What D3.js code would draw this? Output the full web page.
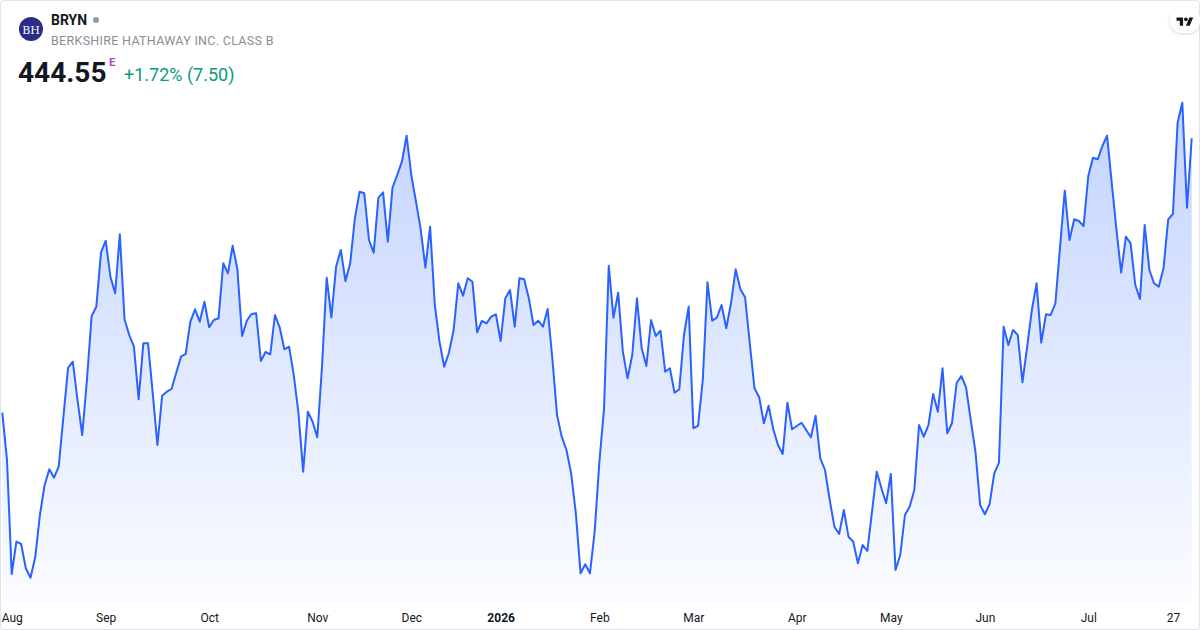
<!DOCTYPE html>
<html>
<head>
<meta charset="utf-8">
<script src="https://cdn.jsdelivr.net/npm/d3@7"></script>
<style>
  html, body { margin: 0; padding: 0; background: #fff; }
  svg { display: block; font-family: Roboto, "Noto Sans", sans-serif; }
</style>
</head>
<body>
<svg id="chart" width="1200" height="630"></svg>
<script>
// --- Data (daily closes) ---
const closes = [
  417.11, 412.38, 400.98, 404.21, 403.98, 401.55, 400.61, 402.65, 406.88, 409.88,
  411.45, 410.61, 411.71, 416.71, 421.61, 422.21, 418.38, 414.88, 420.38, 426.78,
  427.71, 433.15, 434.31, 430.71, 429.05, 434.95, 426.45, 424.88, 423.71, 418.45,
  424.05, 424.05, 419.05, 413.88, 418.81, 419.21, 419.48, 421.11, 422.71, 422.98,
  426.21, 427.45, 426.21, 428.21, 425.65, 426.38, 426.55, 432.05, 431.05, 433.81,
  431.48, 424.78, 426.31, 426.98, 427.05, 422.28, 423.18, 422.95, 426.88, 425.65,
  423.45, 423.71, 420.88, 417.05, 411.21, 417.21, 416.21, 414.65, 421.71, 430.61,
  426.65, 431.71, 433.38, 430.28, 432.05, 436.58, 439.21, 439.05, 434.38, 433.11,
  438.61, 439.15, 434.21, 439.61, 440.88, 442.21, 444.81, 440.88, 438.21, 435.45,
  431.61, 435.71, 427.88, 424.21, 421.71, 423.11, 425.38, 430.05, 428.81, 430.55,
  430.21, 425.15, 426.28, 426.05, 426.71, 426.95, 424.28, 428.55, 429.38, 425.71,
  430.55, 430.45, 428.55, 425.88, 426.31, 425.71, 427.48, 422.55, 416.88, 414.71,
  413.38, 411.05, 407.05, 401.05, 401.95, 401.05, 405.21, 412.18, 417.55, 431.81,
  426.61, 429.11, 423.21, 420.55, 422.88, 428.55, 423.55, 421.78, 426.38, 424.78,
  425.31, 421.21, 421.55, 419.11, 419.45, 424.88, 427.71, 415.55, 415.81, 420.38,
  430.15, 426.31, 426.61, 427.88, 425.55, 428.05, 431.45, 429.45, 428.65, 424.05,
  419.55, 418.65, 416.05, 417.81, 415.45, 413.88, 412.98, 418.11, 415.45, 415.78,
  416.11, 415.38, 414.65, 416.81, 412.55, 411.38, 408.38, 405.71, 404.98, 407.38,
  404.71, 404.21, 402.05, 403.88, 403.28, 407.21, 411.21, 409.55, 408.05, 410.98,
  401.38, 402.88, 406.88, 407.71, 409.38, 415.88, 414.71, 415.88, 418.98, 417.21,
  421.55, 415.05, 416.05, 420.08, 420.78, 419.65, 416.38, 413.21, 407.88, 406.95,
  407.95, 411.05, 412.11, 425.71, 423.88, 425.38, 424.88, 420.15, 423.71, 427.38,
  430.05, 424.11, 426.95, 426.88, 428.05, 433.71, 439.31, 434.38, 436.45, 436.28,
  435.78, 440.78, 442.61, 442.45, 443.78, 444.81, 440.05, 435.38, 431.11, 434.71,
  434.05, 429.88, 428.48, 435.88, 431.38, 430.05, 429.71, 431.55, 436.45, 436.98,
  446.11, 448.11, 437.61, 444.55
];

// bar index where each time-axis label sits
const tickLabels = ["Aug", "Sep", "Oct", "Nov", "Dec", "2026", "Feb", "Mar", "Apr", "May", "Jun", "Jul", "27"];
const tickIndex  = [2, 22, 44, 67, 87, 106, 127, 147, 169, 189, 209, 231, 249];
const boldTicks  = ["2026"];

const symbol = "BRYN";
const company = "BERKSHIRE HATHAWAY INC. CLASS B";
const lastPrice = "444.55";
const change = "+1.72% (7.50)";

// --- Layout ---
const width = 1200, height = 630;
const svg = d3.select("#chart");

const x = d3.scaleLinear().domain([0, closes.length - 1]).range([2.3, 1191.7]);
const y = d3.scaleLinear().domain([400, 450]).range([583.8, 83.8]);
const plotBottom = 602;

// gradient for the area
const defs = svg.append("defs");
const grad = defs.append("linearGradient")
    .attr("id", "areaFill")
    .attr("gradientUnits", "userSpaceOnUse")
    .attr("x1", 0).attr("y1", 100).attr("x2", 0).attr("y2", plotBottom);
grad.append("stop").attr("offset", "0%").attr("stop-color", "#2962ff").attr("stop-opacity", 0.28);
grad.append("stop").attr("offset", "100%").attr("stop-color", "#2962ff").attr("stop-opacity", 0.02);

const shadow = defs.append("filter").attr("id", "shadow")
    .attr("x", "-50%").attr("y", "-50%").attr("width", "200%").attr("height", "200%");
shadow.append("feDropShadow").attr("dx", 0).attr("dy", 1).attr("stdDeviation", 1.5)
    .attr("flood-color", "#000").attr("flood-opacity", 0.18);

// background + frame
svg.append("rect")
    .attr("x", 0.5).attr("y", 0.5)
    .attr("width", width - 1).attr("height", height - 1)
    .attr("rx", 3)
    .attr("fill", "#fff")
    .attr("stroke", "#e0e3eb");

// area + line
const area = d3.area()
    .x((d, i) => x(i))
    .y0(plotBottom)
    .y1(d => y(d));

const line = d3.line()
    .x((d, i) => x(i))
    .y(d => y(d));

svg.append("path")
    .datum(closes)
    .attr("d", area)
    .attr("fill", "url(#areaFill)");

svg.append("path")
    .datum(closes)
    .attr("d", line)
    .attr("fill", "none")
    .attr("stroke", "#2962ff")
    .attr("stroke-width", 2)
    .attr("stroke-linejoin", "round");

// time axis labels
const xAxis = d3.axisBottom(x)
    .tickValues(tickIndex)
    .tickFormat((d, i) => tickLabels[i])
    .tickSize(0)
    .tickPadding(0);

const axisG = svg.append("g")
    .attr("transform", `translate(0, 613)`)
    .call(xAxis);
axisG.select(".domain").remove();
axisG.selectAll("text")
    .attr("font-size", 12)
    .attr("font-family", "Roboto, 'Noto Sans', sans-serif")
    .attr("fill", "#131722")
    .attr("font-weight", d => boldTicks.includes(tickLabels[tickIndex.indexOf(d)]) ? 700 : 400);

// --- Header ---
const head = svg.append("g");
head.append("circle").attr("cx", 31).attr("cy", 29).attr("r", 12).attr("fill", "#2a2c86");
head.append("text")
    .attr("x", 31).attr("y", 33.5)
    .attr("text-anchor", "middle")
    .attr("font-family", "'DejaVu Serif', 'Liberation Serif', serif")
    .attr("font-size", 11)
    .attr("fill", "#fff")
    .text("BH");

head.append("text")
    .attr("x", 51).attr("y", 25)
    .attr("font-size", 14)
    .attr("font-weight", 700)
    .attr("fill", "#131722")
    .text(symbol);
head.append("circle").attr("cx", 96).attr("cy", 20).attr("r", 3).attr("fill", "#9598a1");

head.append("text")
    .attr("x", 51).attr("y", 45)
    .attr("font-size", 12.5)
    .attr("letter-spacing", 0.3)
    .attr("fill", "#8a8d96")
    .text(company);

head.append("text")
    .attr("x", 18).attr("y", 82)
    .attr("font-size", 28)
    .attr("font-weight", 700)
    .attr("fill", "#131722")
    .text(lastPrice);
head.append("text")
    .attr("x", 109).attr("y", 66)
    .attr("font-size", 11.5)
    .attr("font-weight", 700)
    .attr("fill", "#ab47bc")
    .text("E");
head.append("text")
    .attr("x", 124).attr("y", 81)
    .attr("font-size", 18)
    .attr("fill", "#089981")
    .text(change);

// TradingView badge, top right
const badge = svg.append("g").attr("transform", "translate(1170, 7)");
badge.append("rect")
    .attr("width", 30).attr("height", 26).attr("rx", 12)
    .attr("fill", "#fff")
    .attr("filter", "url(#shadow)");
const tv = badge.append("g").attr("transform", "translate(6.5, 8.5) scale(0.47)");
tv.append("path").attr("d", "M14 22H7V11H0V4h14v18z").attr("fill", "#131722");
tv.append("path").attr("d", "M28 22h-8l7.5-18h8L28 22z").attr("fill", "#131722");
tv.append("circle").attr("cx", 20).attr("cy", 8).attr("r", 4).attr("fill", "#131722");
</script>
</body>
</html>
